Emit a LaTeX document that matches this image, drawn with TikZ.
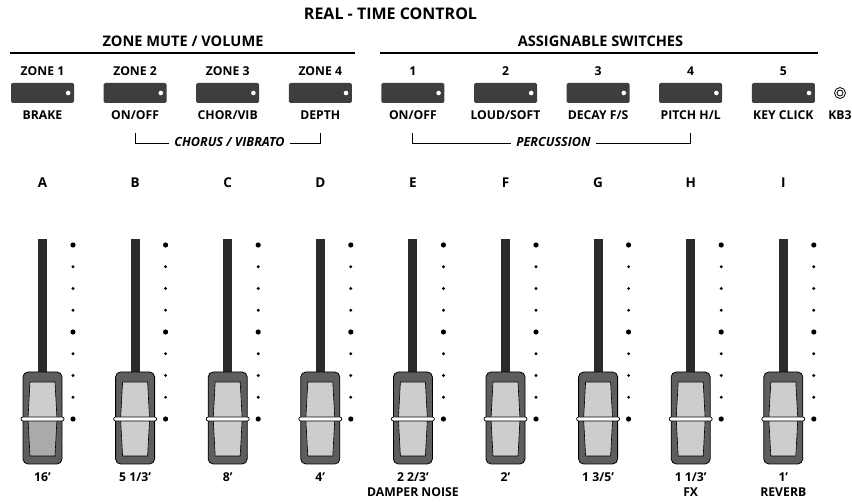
\documentclass[tikz,border=0pt]{standalone}
\usepackage{fontspec}
\setmainfont{Open Sans}
\usetikzlibrary{calc}
\definecolor{btngray}{HTML}{3E3E3E}
\definecolor{capgray}{HTML}{5E5E5E}
\definecolor{inlight}{HTML}{CDCDCD}
\definecolor{indark}{HTML}{AAAAAA}
\definecolor{stem}{HTML}{2A2A2A}
\begin{document}
\begin{tikzpicture}[x=1pt,y=-1pt,
  title/.style={font=\bfseries\fontsize{16}{18}\selectfont, inner sep=0pt, anchor=base},
  head/.style={font=\bfseries\fontsize{14.6}{17}\selectfont, inner sep=0pt, anchor=base},
  lab/.style={font=\bfseries\fontsize{12.2}{14}\selectfont, inner sep=0pt, anchor=base},
  letter/.style={font=\bfseries\fontsize{13.5}{15}\selectfont, inner sep=0pt, anchor=base},
  grp/.style={font=\bfseries\itshape\fontsize{12.6}{14}\selectfont, inner xsep=5pt, inner ysep=0pt, anchor=base},
  btn/.style={rectangle, rounded corners=1.5pt, fill=btngray, minimum width=63pt, minimum height=20pt, inner sep=0pt},
  rule/.style={line width=1.3pt},
  brk/.style={line width=0.9pt},
  fcap/.style={rectangle, rounded corners=5pt, fill=capgray, draw=black, line width=0.8pt, minimum width=39pt, minimum height=92pt, inner sep=0pt},
  hbar/.style={rectangle, rounded corners=2pt, fill=white, draw=black, line width=0.7pt, minimum width=43pt, minimum height=4pt, inner sep=0pt},
]
\useasboundingbox (0,0) rectangle (852,502);

% titles
\node[title] (t) at (390.5,19.6) {REAL - TIME CONTROL};
\node[head] (h1) at (183,46.5) {ZONE MUTE / VOLUME};
\node[head] (h2) at (600.5,46.5) {ASSIGNABLE SWITCHES};
\coordinate (r1a) at (10,53); \coordinate (r1b) at (355,53);
\coordinate (r2a) at (380,53); \coordinate (r2b) at (818,53);
\draw[rule] (r1a) -- (r1b);
\draw[rule] (r2a) -- (r2b);

% switches
\foreach \i/\top/\bot in {1/ZONE 1/BRAKE, 2/ZONE 2/ON\slash OFF, 3/ZONE 3/CHOR\slash VIB, 4/ZONE 4/DEPTH,
  5/1/ON\slash OFF, 6/2/LOUD\slash SOFT, 7/3/DECAY F\slash S, 8/4/PITCH H\slash L, 9/5/KEY CLICK}{
  \pgfmathsetmacro{\cx}{42.5+92.6*(\i-1)}
  \node[lab] (u\i) at (\cx,76) {\top};
  \node[btn] (s\i) at (\cx,93) {};
  \fill[white] ($(s\i.east)+(-6,0)$) circle (2.3pt);
  \node[lab] (l\i) at (\cx,120) {\bot};
}

% KB3 jack
\node[circle, draw=black, line width=0.8pt, minimum size=11pt, inner sep=0pt] (kb) at (840,93) {};
\draw[line width=0.8pt] (kb.center) circle (3pt);
\node[lab] (kbl) at (840,120) {KB3};

% brackets
\node[grp] (cho) at (229.5,147) {CHORUS / VIBRATO};
\node[grp] (per) at (553.5,147) {PERCUSSION};
\draw[brk] (l2.south |- 0,133) -- (l2.south |- 0,143) -- (cho.west |- 0,143);
\draw[brk] (cho.east |- 0,143) -- (l4.south |- 0,143) -- (l4.south |- 0,133);
\draw[brk] (l5.south |- 0,133) -- (l5.south |- 0,143) -- (per.west |- 0,143);
\draw[brk] (per.east |- 0,143) -- (l8.south |- 0,143) -- (l8.south |- 0,133);

% faders
\foreach \i/\L/\b/\c in {1/A/16’/, 2/B/5 1\slash 3’/, 3/C/8’/, 4/D/4’/, 5/E/2 2\slash 3’/DAMPER NOISE,
  6/F/2’/, 7/G/1 3\slash 5’/, 8/H/1 1\slash 3’/FX, 9/I/1’/REVERB}{
  \pgfmathsetmacro{\cx}{42.5+92.6*(\i-1)}
  \node[letter] (let\i) at (\cx,187.7) {\L};
  \fill[stem] (\cx-4.5,239) rectangle (\cx+4.5,400);
  \node[fcap] (f\i) at (\cx,418) {};
  \ifnum\i=1
    \filldraw[fill=inlight, draw=black, line width=0.6pt] (\cx-12.5,382) -- (\cx+12.5,382) -- (\cx+14.5,419) -- (\cx-14.5,419) -- cycle;
    \filldraw[fill=indark, draw=black, line width=0.6pt] (\cx-14.5,419) -- (\cx+14.5,419) -- (\cx+12.5,456) -- (\cx-12.5,456) -- cycle;
  \else
    \filldraw[fill=inlight, draw=black, line width=0.6pt] (\cx-12.5,382) -- (\cx+12.5,382) -- (\cx+14.5,419) -- (\cx+12.5,456) -- (\cx-12.5,456) -- (\cx-14.5,419) -- cycle;
  \fi
  \node[hbar] (hb\i) at (\cx,419) {};
  \foreach \k in {0,...,8}{
    \pgfmathsetmacro{\yy}{245+21.75*\k}
    \ifnum\k=0 \fill (\cx+30.5,\yy) circle (2.6pt);
    \else\ifnum\k=4 \fill (\cx+30.5,\yy) circle (2.6pt);
    \else\ifnum\k=8 \fill (\cx+30.5,\yy) circle (2.6pt);
    \else \fill (\cx+30.5,\yy) circle (1.6pt);
    \fi\fi\fi
  }
  \node[lab] (b\i) at (\cx,482) {\b};
  \node[lab] (c\i) at (\cx,497) {\c};
}
\end{tikzpicture}
\end{document}
